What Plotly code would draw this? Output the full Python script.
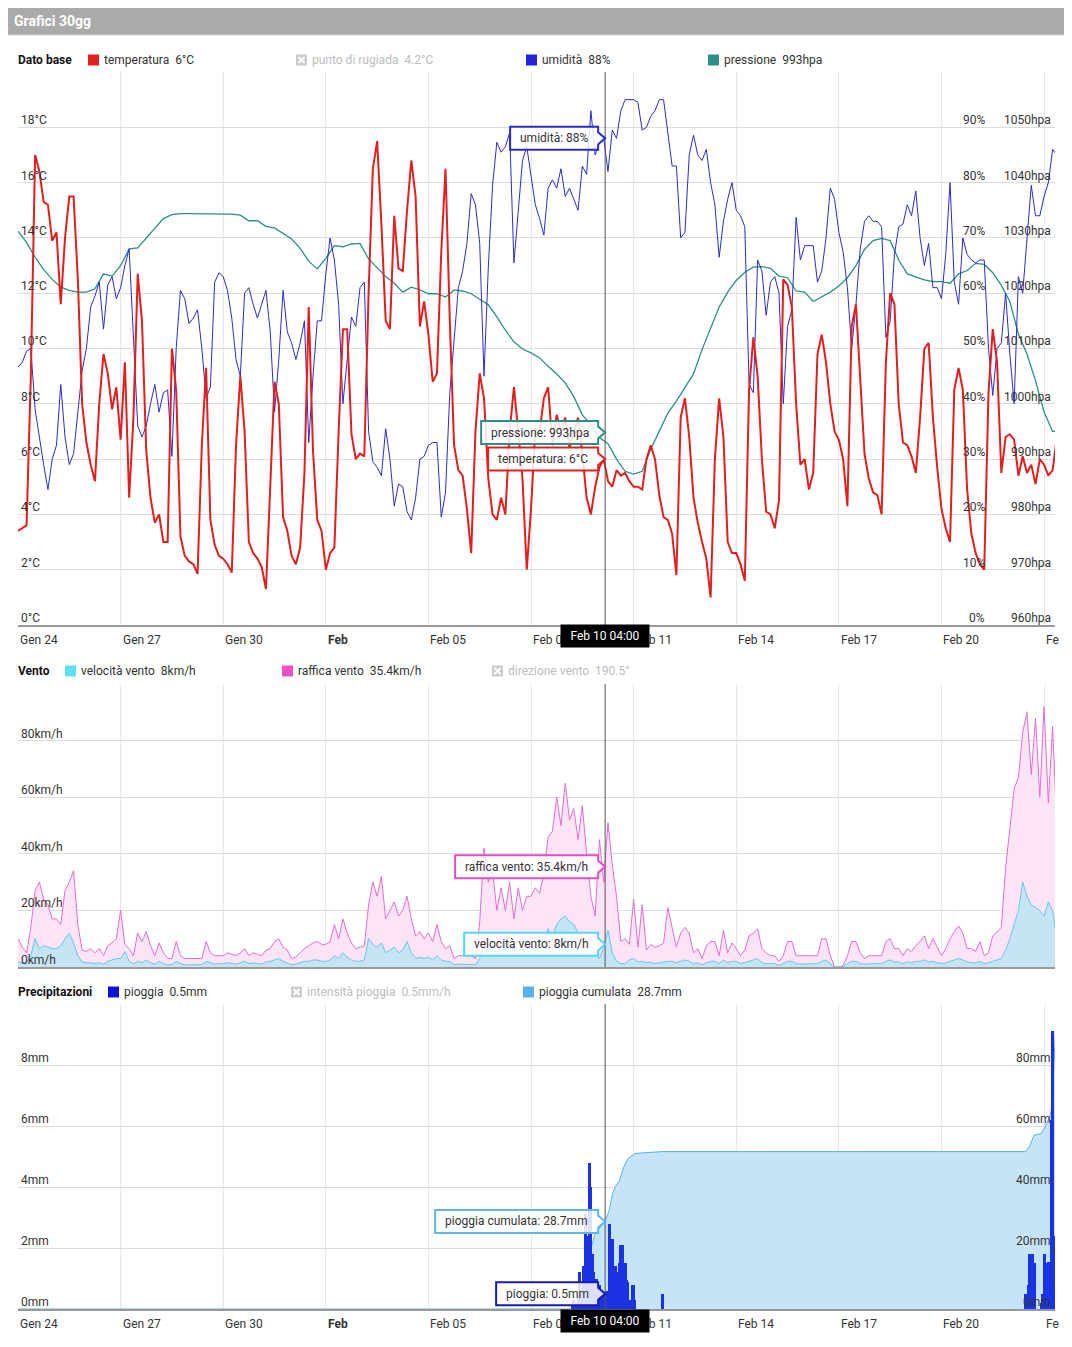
import plotly.graph_objects as go
import pandas as pd

# la pagina aggiunge 8px di margine al body: il grafico parte da (8, 8)
OFF = 8
W, H = 1072 - OFF, 1347 - OFF

inizio = "2024-01-24 00:00"
fine = "2024-02-23 07:40"
cursore = "2024-02-10 04:00"

# valori correnti (legenda / tooltip)
temp_now, rugiada_now, umid_now, press_now = 6, 4.2, 88, 993
vento_now, raffica_now, direzione_now = 8, 35.4, 190.5
pioggia_now, intensita_now, cumulata_now = 0.5, 0.5, 28.7

# temperatura °C, ogni 3 ore
temperatura = [
    3.4, 3.5, 3.6, 9.0, 17.0, 16.4, 15.3, 15.2,
    13.9, 14.2, 11.6, 14.0, 15.5, 15.5, 12.5, 8.0,
    6.6, 5.8, 5.2, 8.0, 9.8, 9.1, 7.8, 8.6,
    6.7, 9.5, 4.6, 7.5, 12.7, 11.0, 6.3, 4.6,
    3.7, 4.0, 3.0, 3.0, 10.0, 8.5, 3.2, 2.5,
    2.3, 2.2, 1.85, 6.5, 9.3, 3.8, 2.9, 2.5,
    2.4, 2.2, 1.9, 6.5, 9.0, 7.0, 3.0, 2.6,
    2.4, 2.1, 1.3, 5.0, 8.8, 8.0, 3.9, 3.4,
    2.5, 2.2, 2.8, 5.5, 11.5, 6.3, 3.8, 3.4,
    2.0, 2.6, 2.8, 7.0, 10.7, 10.7, 6.9, 6.0,
    6.2, 6.1, 12.0, 16.5, 17.5, 14.5, 11.0, 10.7,
    14.8, 12.9, 12.8, 15.0, 16.8, 15.5, 10.8, 11.7,
    10.5, 8.8, 9.1, 13.5, 16.5, 11.0, 6.5, 5.6,
    5.4, 4.2, 2.6, 7.0, 9.1, 8.2, 5.3, 4.0,
    3.8, 4.6, 4.0, 7.0, 8.6, 7.0, 5.3, 2.0,
    4.2, 7.1, 7.0, 8.2, 8.6, 6.5, 7.6, 7.0,
    7.5, 6.4, 7.0, 7.5, 6.2, 4.6, 4.0, 5.0,
    5.7, 6.0, 5.2, 5.0, 5.6, 5.4, 5.5, 5.2,
    5.0, 5.0, 4.9, 6.0, 6.5, 6.0, 4.7, 3.9,
    3.8, 3.3, 1.8, 7.5, 8.2, 6.8, 4.6, 3.7,
    3.0, 2.4, 1.0, 6.0, 8.2, 6.8, 3.0, 2.6,
    2.6, 2.2, 1.6, 8.5, 10.4, 9.0, 6.0, 4.1,
    4.0, 3.5, 4.5, 12.5, 12.3, 11.5, 8.0, 5.8,
    6.0, 4.9, 5.5, 9.8, 10.5, 9.5, 8.0, 7.0,
    6.7, 6.0, 4.3, 10.8, 11.6, 9.0, 6.2, 5.3,
    4.8, 4.7, 4.0, 9.5, 12.0, 11.6, 8.0, 6.6,
    6.5, 6.1, 5.5, 7.5, 10.0, 10.2, 7.5, 5.7,
    4.2, 3.5, 3.0, 8.5, 9.3, 8.5, 4.9, 3.3,
    2.6, 2.2, 2.0, 8.4, 10.7, 9.5, 5.5, 6.8,
    6.9, 6.7, 5.4, 6.1, 5.5, 5.8, 5.1, 6.0,
    5.8, 5.4, 5.6, 6.8,
]

# umidità %, ogni 3 ore
umidita = [
    46.6, 47.5, 49.5, 50, 39, 33.7, 29, 24.5,
    30, 32.5, 43.5, 34, 29, 31, 38.5, 46,
    50, 57.5, 59.5, 62, 53.5, 61.5, 63, 59,
    61, 65, 68, 52, 36, 34, 36, 40,
    43.5, 38.5, 42, 42.5, 30.5, 50, 60.5, 59,
    54.5, 55.5, 57, 50, 41, 43, 62, 63.7,
    63, 60.5, 55.5, 48, 45, 60, 61, 58,
    55.5, 58, 60.5, 53, 38.5, 48, 60.5, 53,
    51, 48, 51, 55, 33, 45, 55, 55,
    63.5, 70, 66, 58, 40, 48, 55.7, 54,
    61, 62, 35, 29.5, 28.5, 27, 35.5, 30,
    21.5, 25.5, 25, 20.5, 19, 23, 30, 30.5,
    32.5, 33, 33, 19.5, 24, 42, 52, 61,
    64, 69, 78, 76, 69, 45, 64.5, 79.5,
    87.3, 85.5, 86.5, 89, 65.5, 75, 84, 86.5,
    81, 76, 73.5, 70.5, 79, 80.5, 79, 82.5,
    77.5, 79, 77, 75, 83, 81.5, 93, 85,
    87.3, 88, 82, 89.5, 88, 93, 95, 95,
    95, 94.5, 89.5, 90, 92, 93, 95, 95,
    89, 83, 83, 70, 71, 85, 88.6, 85,
    84, 86, 80, 76, 66.5, 73, 77, 80,
    75, 74, 72, 43.5, 42, 66, 64, 56,
    62, 63, 60, 40, 54, 57, 73.7, 66,
    68.6, 68.6, 68.6, 62, 64, 70, 79, 77,
    71, 67.5, 61, 50, 58, 68, 73, 74,
    73, 73, 72, 52, 55, 67, 72, 72.5,
    76, 74, 78.5, 70, 65, 69, 61, 61,
    59, 67, 80, 62, 58, 70, 67, 66,
    65.5, 66, 66, 50, 41.5, 50, 51, 60,
    49, 40, 63, 60, 70, 79.5, 74, 74,
    77.5, 80, 86, 85,
]

# pressione hPa, ogni 6 ore
pressione = [
    1031.2, 1029.2, 1026.5, 1024.3, 1022.5, 1021.1, 1020.5, 1020.2,
    1020.2, 1020.8, 1023.5, 1023.1, 1025.0, 1028.0, 1028.2, 1030.0,
    1031.8, 1033.5, 1034.2, 1034.4, 1034.4, 1034.4, 1034.4, 1034.4,
    1034.4, 1034.3, 1034.1, 1033.1, 1033.1, 1032.1, 1031.8, 1030.8,
    1029.8, 1028.1, 1025.8, 1024.4, 1026.3, 1028.6, 1028.4, 1028.9,
    1029.0, 1026.2, 1024.5, 1023.0, 1021.8, 1020.2, 1021.1, 1020.6,
    1019.9, 1019.9, 1019.3, 1020.6, 1020.4, 1019.9, 1018.9, 1017.9,
    1015.7, 1013.3, 1011.2, 1009.9, 1009.2, 1008.3, 1006.8, 1005.4,
    1003.8, 1001.3, 998.0, 996.2, 993.9, 992.8, 990.0, 987.8,
    987.3, 987.8, 991.8, 995.2, 998.3, 1000.5, 1003.0, 1005.4,
    1009.8, 1013.5, 1017.5, 1020.2, 1022.3, 1023.8, 1024.7, 1024.8,
    1024.5, 1023.1, 1022.8, 1020.4, 1020.2, 1018.5, 1019.4, 1020.2,
    1021.3, 1022.8, 1025.0, 1027.9, 1029.5, 1029.9, 1029.5, 1026.0,
    1023.5, 1022.9, 1022.4, 1022.1, 1022.1, 1021.8, 1023.5, 1024.1,
    1025.4, 1025.2, 1023.7, 1021.4, 1018.5, 1012.6, 1009.0, 1004.2,
    998.5, 995.0, 995.0,
]

# velocità vento km/h, ogni 3 ore
vento = [
    1.8, 1.5, 1.8, 4, 10, 6.5, 7.5, 7,
    6.5, 6.5, 7.5, 10, 12, 8.5, 4, 1.8,
    1.5, 1.5, 1.2, 1.5, 1.0, 2, 2.5, 3,
    3, 5.5, 2, 1.2, 2, 1.5, 2.5, 1.5,
    1.0, 2, 1.2, 0.8, 0.8, 2, 1.2, 0.8,
    0.8, 0.8, 1.0, 0.8, 2, 1.5, 1.0, 1.2,
    1.2, 1.5, 1.2, 1.0, 1.5, 2, 1.2, 1.5,
    1.2, 1.0, 1.8, 2, 2.5, 3, 2, 1.5,
    0.8, 1.0, 1.5, 2, 2, 2.5, 2.5, 2,
    2, 2.5, 4, 3, 5, 3.5, 2.5, 2,
    2, 2.5, 10, 8, 7, 8.5, 5, 6,
    7, 5, 6, 9, 5, 3, 3.5, 3,
    3.5, 2.5, 4, 2.5, 2, 2, 0.8, 1.0,
    1.0, 1.0, 1.0, 0.8, 3, 7, 5, 6,
    5.5, 6.5, 6, 7.5, 6.5, 7, 6, 7.5,
    7, 8, 7.5, 9, 13.5, 11, 15, 17,
    18, 16, 15, 12, 10, 9, 7.5, 5,
    3, 7, 13, 5, 2, 1.2, 1.2, 2.5,
    3, 1.8, 2, 1.5, 1.8, 1.2, 1.5, 1.8,
    2, 2, 1.5, 2, 2.5, 2, 1.2, 1.5,
    0.8, 1.5, 2, 2, 1.2, 2.5, 1.5, 2,
    2, 1.2, 1.5, 2, 2.5, 3, 1.5, 1.2,
    1.2, 1.2, 0.5, 1.2, 2, 2, 1.2, 1.0,
    1.0, 1.0, 1.2, 1.2, 2, 2.5, 1.2, 0,
    0, 0.2, 1.2, 2, 2, 1.2, 1.0, 1.2,
    1.2, 1.2, 1.2, 2, 2.5, 1.8, 1.8, 1.2,
    1.8, 1.5, 2, 2, 2.5, 1.8, 2, 1.5,
    1.2, 1.5, 2, 2.5, 3, 2.5, 1.8, 1.5,
    1.5, 2, 1.2, 1.5, 2, 2.5, 3, 6,
    10, 15, 20, 30, 25, 22, 21, 20,
    18, 23, 20, 10,
]

# raffica vento km/h, ogni 3 ore
raffica = [
    10, 7, 5, 14, 27, 30, 24, 22,
    17, 17, 15, 27, 30, 34, 15, 6,
    5.5, 6.5, 5, 6.5, 4, 7.6, 8.5, 10,
    20, 8, 6.5, 4, 12, 9, 12.5, 7.6,
    4, 8.5, 5, 3, 3, 9, 4, 3,
    3, 3, 3, 3, 9, 5, 4, 4,
    4, 5, 4.5, 4, 5, 6.5, 4, 5,
    4.5, 4, 6, 6.5, 9, 10, 7, 6,
    3, 3.5, 5, 6.5, 7.5, 8.5, 9, 8,
    8, 9, 15, 10, 17, 12, 8.5, 6.5,
    7, 7.5, 22, 30, 25, 32, 17, 20,
    23, 18, 20, 25, 17, 11, 12.5, 10,
    12, 9, 15, 9, 6.5, 7.5, 3, 4,
    4, 4, 4, 3, 16, 42, 30, 34,
    20, 28, 20, 30, 17, 28, 20, 25,
    25, 28, 26, 33, 46, 48, 60, 50,
    65, 52, 56, 45, 57, 40, 25, 18,
    45, 30, 51, 36, 25, 9, 10, 8,
    24, 7, 22, 6, 8, 7, 7.5, 8.5,
    21, 14, 7, 12, 14, 12, 5, 6.5,
    3, 7.5, 9, 9, 4, 13, 5, 8.5,
    6.5, 4, 6, 11, 12, 13.5, 6.5, 5,
    4, 4, 2, 4, 9, 9, 4, 4,
    4, 4, 4, 4, 10, 10, 4, 0,
    0, 0.5, 4, 9, 9, 5, 3, 4,
    4, 4, 4, 9, 10, 6.5, 6.5, 4,
    6.5, 5.5, 7.6, 9, 11, 6.5, 10, 7,
    4, 6.5, 10, 12.5, 14.5, 12, 6.5, 6.5,
    5.5, 9, 4, 5, 11, 12.5, 14, 35,
    48, 63, 67, 83, 90, 68, 88, 60,
    92, 58, 85, 50,
]

# pioggia mm orari (solo gli episodi)
pioggia_a = [  # dal 9 feb 05:00
    0.2, 0.3, 0.2, 0, 0.4, 1.2, 0.6, 0.4, 1.4, 3.1, 2.3, 2.4, 4.8, 4.0, 1.8, 1.2, 1.0, 1.0, 0.8,
    0.8, 0.6, 0.6, 0.5, 0.5, 0.6, 0.4, 2.8, 2.3, 2.3, 1.4, 1.4, 1.2, 1.2, 1.5, 2.1, 2.1, 1.5,
    1.5, 0.95, 0.9, 0.3, 0.2, 0.8, 0.8, 0.3, 0,
]
pioggia_c = [0.5]  # 11 feb 20:00
pioggia_b = [  # dal 22 feb 10:00
    0, 0.5, 0.5, 0.8, 1.8, 1.8, 1.8, 1.5, 0, 0, 0, 0, 0.2, 0.5,
    1.8, 1.5, 1.3, 1.55, 1.55, 6.2, 9.1, 2.4,
]

# pioggia cumulata mm
cumulata_t = [
    "2024-01-24 00:00", "2024-02-09 04:00", "2024-02-09 09:00", "2024-02-09 13:00",
    "2024-02-09 16:00", "2024-02-09 18:00", "2024-02-09 21:00", "2024-02-10 00:00",
    "2024-02-10 04:00", "2024-02-10 07:00", "2024-02-10 09:00", "2024-02-10 11:00",
    "2024-02-10 14:00", "2024-02-10 17:00", "2024-02-10 20:00", "2024-02-11 01:00",
    "2024-02-11 20:00", "2024-02-22 11:00", "2024-02-22 14:00", "2024-02-22 17:00",
    "2024-02-22 22:00", "2024-02-23 01:00", "2024-02-23 04:00", "2024-02-23 05:00",
    "2024-02-23 06:00", "2024-02-23 07:00", "2024-02-23 08:00",
]
cumulata_v = [0, 0, 1.5, 5, 11, 20, 24.5, 26.5, 28.7, 32.5, 37.5, 40, 42, 46.5, 49.3, 51,
              51.6, 51.6, 53.5, 57, 57.5, 60, 63, 65, 71, 81, 91]

# assi
tick_giorni = pd.date_range(inizio, periods=11, freq="3D")
tick_etichette = ["Gen 24", "Gen 27", "Gen 30", "<b>Feb</b>", "Feb 05", "Feb 08",
                  "Feb 11", "Feb 14", "Feb 17", "Feb 20", "Fe"]
tick_temp = list(range(0, 20, 2))
tick_umid = list(range(0, 100, 10))
tick_press = list(range(960, 1060, 10))
tick_vento = list(range(0, 100, 20))
tick_pioggia = list(range(0, 10, 2))
tick_cumulata = list(range(0, 100, 20))

t3 = pd.date_range(inizio, periods=len(temperatura), freq="3h")
t6 = pd.date_range(inizio, periods=len(pressione), freq="6h")
pioggia_t = (list(pd.date_range("2024-02-09 05:00", periods=len(pioggia_a), freq="h"))
             + [pd.Timestamp("2024-02-11 20:00")]
             + list(pd.date_range("2024-02-22 10:00", periods=len(pioggia_b), freq="h")))
pioggia_v = pioggia_a + pioggia_c + pioggia_b

ROSSO, BLU, VERDE = "#e31e1e", "#2b2bcf", "#2a8f86"
AZZ, BLU_P = "#5aaee6", "#1b33e2"


def fx(p):
    return (p - OFF) / W


def fy(p):
    return 1 - (p - OFF) / H


fig = go.Figure()
fig.add_trace(go.Scatter(x=t6, y=pressione, xaxis="x", yaxis="y", mode="lines",
                         line=dict(color=VERDE, width=1.3)))
fig.add_trace(go.Scatter(x=t3, y=umidita, xaxis="x", yaxis="y2", mode="lines",
                         line=dict(color=BLU, width=1)))
fig.add_trace(go.Scatter(x=t3, y=temperatura, xaxis="x", yaxis="y3", mode="lines",
                         line=dict(color=ROSSO, width=2)))
fig.add_trace(go.Scatter(x=t3, y=raffica, xaxis="x2", yaxis="y4", mode="lines", fill="tozeroy",
                         fillcolor="#fce3f5", line=dict(color="#e070cf", width=1)))
fig.add_trace(go.Scatter(x=t3, y=vento, xaxis="x2", yaxis="y4", mode="lines", fill="tozeroy",
                         fillcolor="#c5e4f4", line=dict(color="#66c8e6", width=1)))
fig.add_trace(go.Scatter(x=cumulata_t, y=cumulata_v, xaxis="x3", yaxis="y5", mode="lines",
                         fill="tozeroy", fillcolor="#c6e4f8", line=dict(color=AZZ, width=1)))
fig.add_trace(go.Bar(x=pioggia_t, y=pioggia_v, xaxis="x3", yaxis="y6", width=2 * 3600 * 1000,
                     marker=dict(color=BLU_P, line=dict(width=0))))

dom_top = [fy(625), fy(72)]
dom_mid = [fy(967), fy(684)]
dom_bot = [fy(1309), fy(1004)]

xcommon = dict(type="date", range=[inizio, fine], domain=[fx(18), fx(1055)],
               tickvals=tick_giorni, showticklabels=False, ticks="",
               showgrid=True, gridcolor="#e8e8e8", gridwidth=1,
               showline=True, linecolor="#999999", linewidth=1.5, zeroline=False)
ycommon = dict(showticklabels=False, ticks="", zeroline=False, showline=False)

fig.update_layout(
    width=W, height=H,
    margin=dict(l=0, r=0, t=0, b=0),
    paper_bgcolor="white", plot_bgcolor="white",
    font=dict(family="Roboto, Arial, sans-serif", size=12, color="#333333"),
    showlegend=False, hovermode=False, bargap=0,
    xaxis=dict(xcommon, anchor="y"),
    xaxis2=dict(xcommon, anchor="y4", matches="x"),
    xaxis3=dict(xcommon, anchor="y5", matches="x"),
    yaxis=dict(ycommon, domain=dom_top, range=[960, 1060], anchor="x",
               tickvals=tick_press + [1060], showgrid=True, gridcolor="#dcdcdc"),
    yaxis2=dict(ycommon, overlaying="y", anchor="x", range=[0, 100], showgrid=False),
    yaxis3=dict(ycommon, overlaying="y", anchor="x", range=[0, 20], showgrid=False),
    yaxis4=dict(ycommon, domain=dom_mid, range=[0, 100], anchor="x2",
                tickvals=tick_vento + [100], showgrid=True, gridcolor="#dcdcdc"),
    yaxis5=dict(ycommon, domain=dom_bot, range=[0, 100], anchor="x3",
                tickvals=tick_cumulata + [100], showgrid=True, gridcolor="#dcdcdc"),
    yaxis6=dict(ycommon, overlaying="y5", anchor="x3", range=[0, 10], showgrid=False),
)

shapes = []
ann = []

# barra titolo
shapes.append(dict(type="rect", xref="paper", yref="paper", x0=fx(7), x1=fx(1065),
                   y0=fy(35), y1=fy(7), fillcolor="#aaaaaa", line=dict(color="#d4d4d4", width=1),
                   layer="below"))
ann.append(dict(xref="paper", yref="paper", x=fx(12), y=fy(21), xanchor="left", yanchor="middle",
                text="<b>Grafici 30gg</b>", showarrow=False,
                font=dict(size=14, color="white")))


def legenda_titolo(x, y, testo):
    ann.append(dict(xref="paper", yref="paper", x=fx(x), y=fy(y), xanchor="left",
                    yanchor="middle", text="<b>" + testo + "</b>", showarrow=False,
                    font=dict(size=12, color="#111111")))


def legenda_voce(x, y, colore, testo, attivo=True):
    shapes.append(dict(type="rect", xref="paper", yref="paper", x0=fx(x), x1=fx(x + 11),
                       y0=fy(y + 5.5), y1=fy(y - 5.5),
                       fillcolor=colore if attivo else "#cccccc", line=dict(width=0)))
    if not attivo:
        for a, b in ((-3, 3), (3, -3)):
            shapes.append(dict(type="line", xref="paper", yref="paper", x0=fx(x + 2.5),
                               x1=fx(x + 8.5), y0=fy(y + a), y1=fy(y + b),
                               line=dict(color="white", width=2)))
    ann.append(dict(xref="paper", yref="paper", x=fx(x + 14), y=fy(y), xanchor="left",
                    yanchor="middle", text=testo, showarrow=False,
                    font=dict(size=12, color="#333333" if attivo else "#bdbdbd")))


legenda_titolo(16, 60, "Dato base")
legenda_voce(88, 60, ROSSO, f"temperatura\u00a0 {temp_now:g}°C")
legenda_voce(296, 60, None, f"punto di rugiada\u00a0 {rugiada_now:g}°C", attivo=False)
legenda_voce(526, 60, "#2323d8", f"umidità\u00a0 {umid_now:g}%")
legenda_voce(708, 60, VERDE, f"pressione\u00a0 {press_now:g}hpa")

legenda_titolo(16, 671, "Vento")
legenda_voce(65, 671, "#5ce1f2", f"velocità vento\u00a0 {vento_now:g}km/h")
legenda_voce(282, 671, "#f050c8", f"raffica vento\u00a0 {raffica_now:g}km/h")
legenda_voce(492, 671, None, f"direzione vento\u00a0 {direzione_now:g}°", attivo=False)

legenda_titolo(16, 992, "Precipitazioni")
legenda_voce(108, 992, "#1010d8", f"pioggia\u00a0 {pioggia_now:g}mm")
legenda_voce(291, 992, None, f"intensità pioggia\u00a0 {intensita_now:g}mm/h", attivo=False)
legenda_voce(523, 992, "#55b0ee", f"pioggia cumulata\u00a0 {cumulata_now:g}mm")


# etichette assi y (interne)
def etichette_y(valori, yref, fmt, x, lato):
    for v in valori:
        ann.append(dict(xref="paper", yref=yref, x=fx(x), y=v, xanchor=lato, yanchor="bottom",
                        yshift=-2, text=fmt.format(v), showarrow=False,
                        font=dict(size=12, color="#333333")))


etichette_y(tick_temp, "y3", "{}°C", 19, "left")
etichette_y(tick_umid, "y2", "{}%", 987, "right")
etichette_y(tick_press, "y", "{}hpa", 1053, "right")
etichette_y(tick_vento, "y4", "{}km/h", 19, "left")
etichette_y(tick_pioggia, "y6", "{}mm", 19, "left")
etichette_y(tick_cumulata, "y5", "{}mm", 1053, "right")

# etichette asse x
for riga in (640, 1324):
    for d, t in zip(tick_giorni, tick_etichette):
        ann.append(dict(xref="x", yref="paper", x=d, y=fy(riga), xanchor="left",
                        yanchor="middle", text=t, showarrow=False,
                        font=dict(size=12, color="#333333")))

# linea cursore
for xr, dref in (("x", "y domain"), ("x2", "y4 domain"), ("x3", "y5 domain")):
    shapes.append(dict(type="line", xref=xr, yref=dref, x0=cursore, x1=cursore, y0=0, y1=1,
                       line=dict(color="#555555", width=1)))

# tooltip
tooltip = [
    ("x", "y2", umid_now, f"umidità: {umid_now:g}%", -95, 0, "#2a2ad0"),
    ("x", "y", press_now, f"pressione: {press_now:g}hpa", -124, 10, VERDE),
    ("x", "y3", temp_now, f"temperatura: {temp_now:g}°C", -117, 0, "#e02020"),
    ("x2", "y4", raffica_now, f"raffica vento: {raffica_now:g}km/h", -150, 0, "#df50c4"),
    ("x2", "y4", vento_now, f"velocità vento: {vento_now:g}km/h", -141, 0, "#55d8ee"),
    ("x3", "y5", cumulata_now, f"pioggia cumulata: {cumulata_now:g}mm", -170, 0, "#63b6ea"),
    ("x3", "y6", pioggia_now, f"pioggia: {pioggia_now:g}mm", -109, 0, "#1a1ab4"),
]
R = -7
for xr, yr, val, testo, sx, dy, col in tooltip:
    top, bot = dy + 11.5, dy - 11.5
    path = (f"M {sx},{bot} L {R},{bot} L {R},{dy - 6} L 0,{dy} L {R},{dy + 6} "
            f"L {R},{top} L {sx},{top} Z")
    shapes.append(dict(type="path", xref=xr, yref=yr, xsizemode="pixel", ysizemode="pixel",
                       xanchor=cursore, yanchor=val, path=path,
                       fillcolor="rgba(255,255,255,0.85)", line=dict(color=col, width=2)))
    ann.append(dict(xref=xr, yref=yr, x=cursore, y=val, xshift=(sx + R) / 2, yshift=dy,
                    xanchor="center", yanchor="middle", text=testo, showarrow=False,
                    font=dict(size=12, color="#333333")))

# etichetta data cursore
for riga in (635.5, 1320.5):
    ann.append(dict(xref="x", yref="paper", x=cursore, y=fy(riga), xanchor="center",
                    yanchor="middle", text="Feb 10 04:00", showarrow=False,
                    width=82, height=16, bgcolor="black", borderpad=3,
                    font=dict(size=12, color="white")))

fig.update_layout(shapes=shapes, annotations=ann)
fig.write_html("out.html")
